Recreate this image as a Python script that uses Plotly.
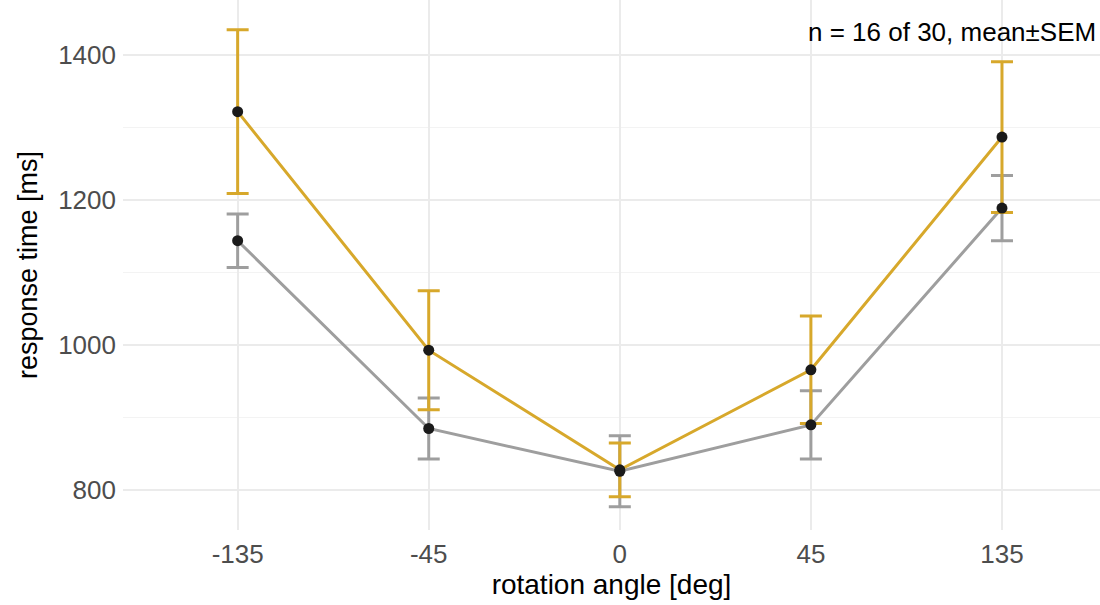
import plotly.graph_objects as go

angles = ["-135", "-45", "0", "45", "135"]
gold_mean = [1322, 993, 828, 966, 1287]
gold_sem = [113, 82, 37, 74, 104]
gray_mean = [1144, 885, 826, 890, 1189]
gray_sem = [37, 42, 49, 47, 45]

GOLD = "#D7A82B"
GRAY = "#9E9E9E"
FONT = "Liberation Sans, Arial"

fig = go.Figure()
for mean, sem, col in [(gray_mean, gray_sem, GRAY), (gold_mean, gold_sem, GOLD)]:
    fig.add_trace(go.Scatter(
        x=angles, y=mean, mode="lines",
        line=dict(color=col, width=3),
        error_y=dict(type="data", array=sem, visible=True, color=col, thickness=3, width=11),
        showlegend=False, hoverinfo="skip"))
for mean in [gray_mean, gold_mean]:
    fig.add_trace(go.Scatter(
        x=angles, y=mean, mode="markers",
        marker=dict(color="#1a1a1a", size=11),
        showlegend=False))

fig.add_annotation(x=1.0, y=1.0, xref="paper", yref="paper", xanchor="right", yanchor="top",
                   xshift=-2, yshift=-15, text="n = 16 of 30, mean±SEM", showarrow=False,
                   font=dict(size=26, color="#000000", family=FONT))

fig.update_layout(
    width=1100, height=605,
    margin=dict(l=123, r=0, t=0, b=75, autoexpand=False),
    plot_bgcolor="white", paper_bgcolor="white",
    font=dict(family=FONT, color="#000000"),
    xaxis=dict(type="category", range=[-0.6, 4.513], showgrid=True, gridcolor="#ebebeb", gridwidth=1.5,
               tickfont=dict(size=26, color="#4d4d4d"), ticks="", zeroline=False, automargin=False,
               ticklabelstandoff=6,
               title=dict(text="rotation angle [deg]", font=dict(size=28, color="#000000"), standoff=2)),
    yaxis=dict(range=[745, 1476], tickvals=[800, 1000, 1200, 1400], showgrid=True, gridcolor="#ebebeb",
               gridwidth=1.5, tickfont=dict(size=26, color="#4d4d4d"), ticks="", zeroline=False,
               automargin=False, ticklabelstandoff=6,
               minor=dict(tickvals=[900, 1100, 1300], showgrid=True, gridcolor="#f3f3f3", gridwidth=1.2),
               title=dict(text="response time [ms]", font=dict(size=27, color="#000000"), standoff=12)),
)

fig.write_html("out.html", config={"displayModeBar": False},
               post_script="document.body.style.margin='0';")
